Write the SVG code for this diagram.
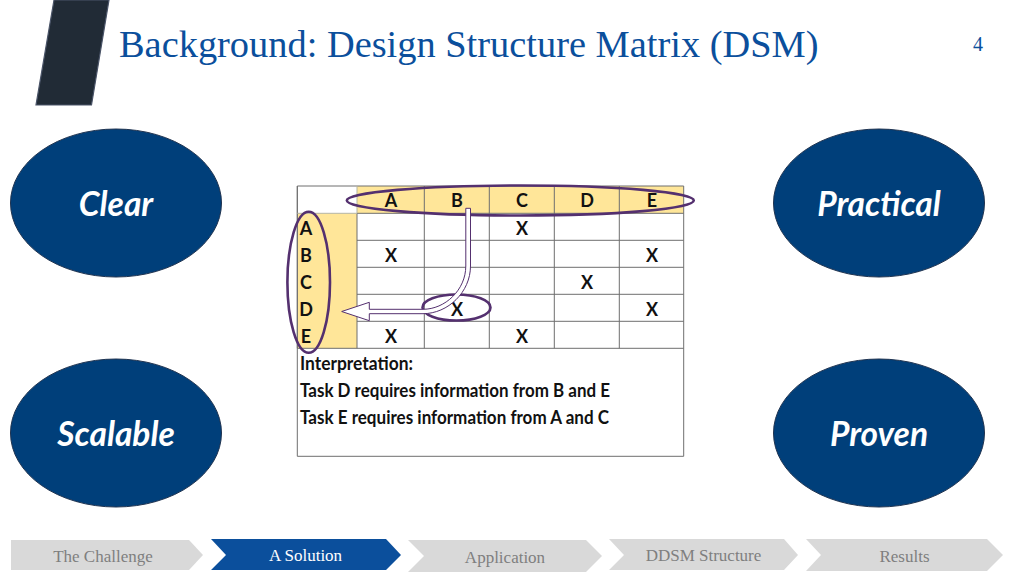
<svg xmlns="http://www.w3.org/2000/svg" width="1024" height="576" viewBox="0 0 1024 576">
<style>
.oval{fill:#003f7a;stroke:#1f3350;stroke-width:1}
.ol{font:italic 700 33.500px Lato,"Liberation Sans",sans-serif;fill:#fff;text-anchor:middle}
.g{stroke:#6f6f6f;stroke-width:1;fill:none}
.h{font:700 18px Lato,"Liberation Sans",sans-serif;fill:#111;text-anchor:middle}
.t{font:700 18px Lato,"Liberation Sans",sans-serif;fill:#111}
.p{fill:none;stroke:#54306f;stroke-width:2.600}
.chev{fill:#d9d9d9}
.cl{font:17px "Liberation Serif",serif;fill:#7f7f7f;text-anchor:middle}
</style>
<rect width="1024" height="576" fill="#fff"/>
<polygon id="bar" points="54,0 109,0 91.500,105 36,105" fill="#212b36" stroke="#4a5468" stroke-width="1.200"/>
<text id="title" x="119" y="57" font-family="Liberation Serif, serif" font-size="38.400" fill="#0b4f9c">Background: Design Structure Matrix (DSM)</text>
<text id="page" x="978" y="51" font-family="Liberation Serif, serif" font-size="20" fill="#0b4f9c" text-anchor="middle">4</text>
<g id="node-clear"><ellipse class="oval" cx="116" cy="203" rx="105.500" ry="74"/><text class="ol" x="116" y="216">Clear</text></g>
<g id="node-practical"><ellipse class="oval" cx="879" cy="203" rx="105.500" ry="74"/><text class="ol" x="879" y="216">Practical</text></g>
<g id="node-scalable"><ellipse class="oval" cx="116" cy="433" rx="105.500" ry="74"/><text class="ol" x="116" y="446">Scalable</text></g>
<g id="node-proven"><ellipse class="oval" cx="879" cy="433" rx="105.500" ry="74"/><text class="ol" x="879" y="446">Proven</text></g>
<g id="matrix">
<rect x="357" y="186" width="326.700" height="27.300" fill="#ffe699"/>
<rect x="297.300" y="213.300" width="59.700" height="135" fill="#ffe699"/>
<path class="g" d="M297.300 186H683.700V456.300H297.300Z"/>
<path class="g" d="M357 213.300H683.700M357 240.300H683.700M357 267.300H683.700M357 294.300H683.700M357 321.300H683.700M297.300 348.300H683.700M297.300 186V348.300M357 213.300V348.300M424.300 186V348.300M489.300 186V348.300M554.300 186V348.300M619.300 186V348.300"/>
<path d="M297.300 213.300H357V186" fill="none" stroke="#b5b5a5" stroke-width="1"/>
<g class="h">
<text x="391" y="207">A</text><text x="457" y="207">B</text><text x="522" y="207">C</text><text x="587" y="207">D</text><text x="652" y="207">E</text>
<text x="522" y="234.500">X</text>
<text x="391" y="261.500">X</text><text x="652" y="261.500">X</text>
<text x="587" y="288.500">X</text>
<text x="457" y="315.500">X</text><text x="652" y="315.500">X</text>
<text x="391" y="342.500">X</text><text x="522" y="342.500">X</text>
<text x="306" y="234.500">A</text><text x="306" y="261.500">B</text><text x="306" y="288.500">C</text><text x="306" y="315.500">D</text><text x="306" y="342.500">E</text>
</g>
<text class="t" x="300" y="370" textLength="113" lengthAdjust="spacingAndGlyphs">Interpretation:</text>
<text class="t" x="300" y="396.500" textLength="310" lengthAdjust="spacingAndGlyphs">Task D requires information from B and E</text>
<text class="t" x="300" y="423.500" textLength="309" lengthAdjust="spacingAndGlyphs">Task E requires information from A and C</text>
</g>
<g id="connectors">
<ellipse class="p" cx="520.300" cy="200.500" rx="173.500" ry="15"/>
<ellipse class="p" cx="308.700" cy="282.200" rx="21.300" ry="70.500"/>
<ellipse class="p" cx="456.500" cy="307.500" rx="34" ry="13"/>
<path d="M465.800 208.300H470.500V266C470.500 292 448 313.700 423 313.700H369.300V320.700L341.700 311.500L369.300 302.300V309.300H423C445 309.300 465.800 290 465.800 266Z" fill="#fff" stroke="#54306f" stroke-width="1"/>
</g>
<g id="nav">
<g id="nav-1"><polygon class="chev" points="11,540 189,540 203,555 189,570 11,570"/><text class="cl" x="103" y="562">The Challenge</text></g>
<g id="nav-2"><polygon points="211,539 386,539 401,555 386,570 211,570 226,555" fill="#0b4f9c"/><text x="305.500" y="561" font-family="Liberation Serif, serif" font-size="17" fill="#fff" text-anchor="middle">A Solution</text></g>
<g id="nav-3"><polygon class="chev" points="408,540 586,540 602,556 586,572 408,572 424,556"/><text class="cl" x="505" y="563">Application</text></g>
<g id="nav-4"><polygon class="chev" points="609,539 784,539 798,555 784,570 609,570 624,555"/><text class="cl" x="703.500" y="561">DDSM Structure</text></g>
<g id="nav-5"><polygon class="chev" points="806,539 987,539 1003,555 987,571 806,571 821,555"/><text class="cl" x="904.500" y="562">Results</text></g>
</g>
</svg>
